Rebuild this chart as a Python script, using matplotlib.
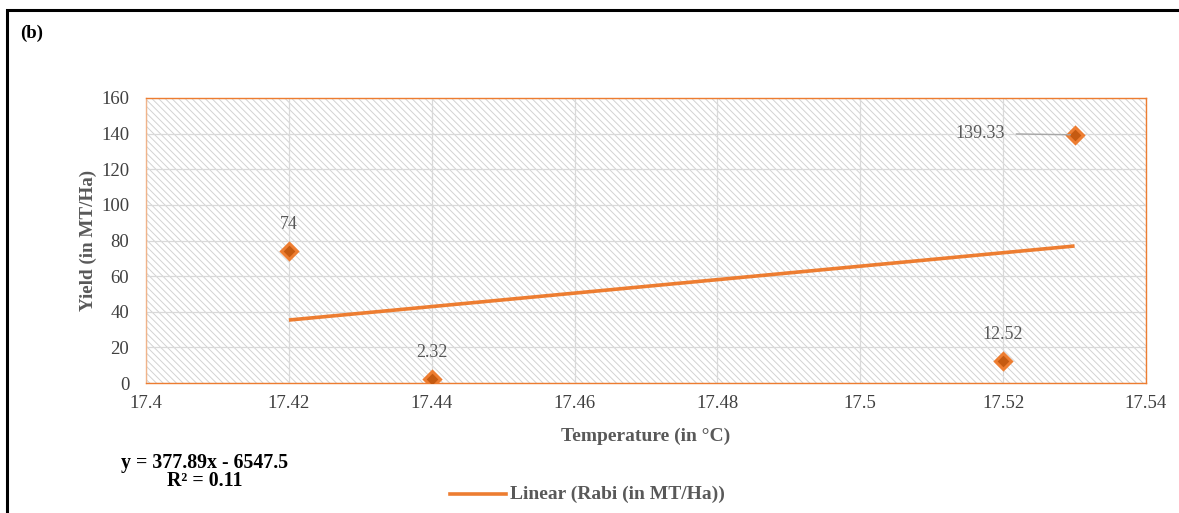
import matplotlib
matplotlib.use("Agg")
import matplotlib.pyplot as plt
from matplotlib.patches import Rectangle
import numpy as np

# Rabi yield against mean temperature
temperature = [17.42, 17.44, 17.52, 17.53]
yield_rabi = [74, 2.32, 12.52, 139.33]
point_labels = ["74", "2.32", "12.52", "139.33"]

# Linear trend reported for the series
slope = 377.89
intercept = -6547.5
r_squared = 0.11

x_ticks = [17.4, 17.42, 17.44, 17.46, 17.48, 17.5, 17.52, 17.54]
x_tick_labels = ["17.4", "17.42", "17.44", "17.46", "17.48", "17.5", "17.52", "17.54"]
y_ticks = [0, 20, 40, 60, 80, 100, 120, 140, 160]

ORANGE = "#ed7d31"
DARK_ORANGE = "#c55a11"
GRID = "#d9d9d9"
TEXT_GRAY = "#595959"
TICK_GRAY = "#404040"
SERIF = ["Liberation Serif", "DejaVu Serif"]
FS = 13.5

plt.rcParams["font.family"] = SERIF
plt.rcParams["hatch.color"] = "#d2d2d2"
plt.rcParams["hatch.linewidth"] = 0.7

W, H = 1179, 513
fig = plt.figure(figsize=(W / 100, H / 100), dpi=100)

# outer frame (left and top edges visible)
fig.add_artist(Rectangle((7 / W, -0.05), 1.2, 1 - 10 / H + 0.05,
                         transform=fig.transFigure, fill=False,
                         edgecolor="black", linewidth=2.2))

ax = fig.add_axes([146 / W, 1 - 383 / H, (1146 - 146) / W, (383 - 98) / H])
ax.set_xlim(17.4, 17.54)
ax.set_ylim(0, 160)

# hatched plot area
ax.patch.set_facecolor("white")
ax.add_patch(Rectangle((0, 0), 1, 1, transform=ax.transAxes,
                       facecolor="white", hatch="\\\\\\\\\\",
                       edgecolor="#d2d2d2", linewidth=0, zorder=0))

ax.set_xticks(x_ticks)
ax.set_xticklabels(x_tick_labels)
ax.set_yticks(y_ticks)
ax.tick_params(axis="both", length=0, labelsize=FS, labelcolor=TICK_GRAY)
ax.tick_params(axis="x", pad=9)
ax.tick_params(axis="y", pad=12)
ax.grid(True, color=GRID, linewidth=0.9, zorder=1)
ax.set_axisbelow(True)
for s in ax.spines.values():
    s.set_color(ORANGE)
    s.set_linewidth(1.0)
ax.spines["left"].set_color("#f0b48a")

# trendline over the data range
xt = np.array([min(temperature), max(temperature)])
ax.plot(xt, slope * xt + intercept, color=ORANGE, linewidth=2.6,
        solid_capstyle="butt", zorder=3)

# data points
ax.plot(temperature, yield_rabi, linestyle="none", marker="D", markersize=8.5,
        markerfacecolor=DARK_ORANGE, markeredgecolor=ORANGE,
        markeredgewidth=2.2, zorder=4)

# value labels
for x, y, lab in zip(temperature, yield_rabi, point_labels):
    if lab == "139.33":
        ax.annotate(lab, xy=(x, y), xytext=(-50, 1), textcoords="offset points",
                    ha="right", va="center", fontsize=13, color=TEXT_GRAY,
                    arrowprops=dict(arrowstyle="-", color="#a6a6a6", lw=1.0,
                                    shrinkA=6, shrinkB=3),
                    zorder=5)
    else:
        ax.annotate(lab, xy=(x, y), xytext=(0, 13), textcoords="offset points",
                    ha="center", va="bottom", fontsize=13, color=TEXT_GRAY,
                    zorder=5)

ax.set_xlabel("Temperature (in °C)", fontsize=14, fontweight="bold",
              color=TEXT_GRAY, labelpad=11)
ax.set_ylabel("Yield (in MT/Ha)", fontsize=13.8, fontweight="bold",
              color=TEXT_GRAY, labelpad=3)

fig.text(20 / W, 1 - 33 / H, "(b)", fontsize=13.5, fontweight="bold",
         color="black", ha="left", va="center")

# trendline equation
fig.text(205 / W, 1 - 463 / H, "y = 377.89x - 6547.5", fontsize=14.3,
         fontweight="bold", color="black", ha="center", va="center")
fig.text(205 / W, 1 - 481 / H, "R² = 0.11", fontsize=14.3,
         fontweight="bold", color="black", ha="center", va="center")

# legend entry
fig.add_artist(plt.Line2D([450 / W, 506 / W], [1 - 494 / H, 1 - 494 / H],
                          transform=fig.transFigure, color=ORANGE, linewidth=2.6))
fig.text(510 / W, 1 - 494 / H, "Linear (Rabi (in MT/Ha))", fontsize=14,
         fontweight="bold", color=TEXT_GRAY, ha="left", va="center")

fig.savefig("out.png", dpi=100)
